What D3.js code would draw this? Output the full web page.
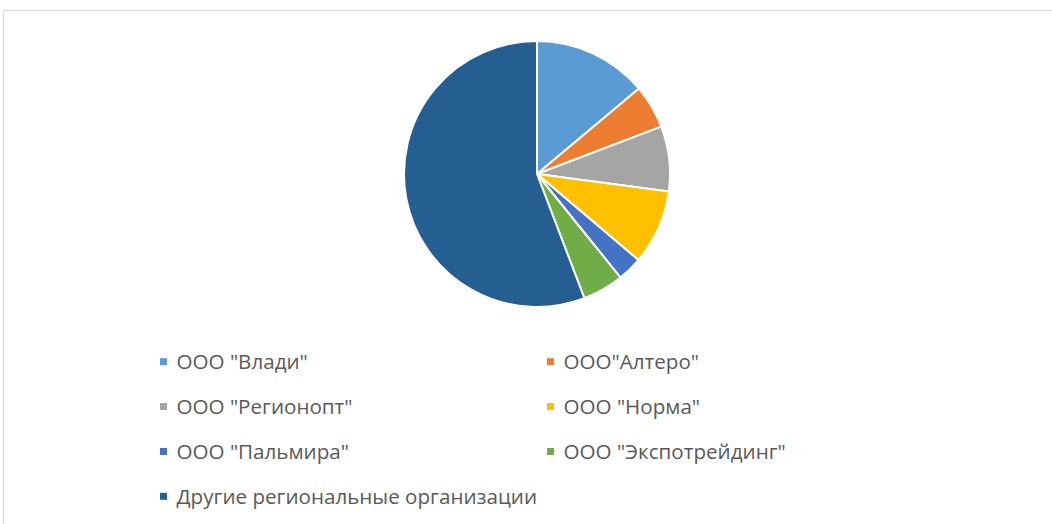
<!DOCTYPE html>
<html><head><meta charset="utf-8">
<script src="https://cdn.jsdelivr.net/npm/d3@7/dist/d3.min.js"></script>
<style>html,body{margin:0;padding:0;background:#fff;}svg{display:block;}</style>
</head><body>
<svg id="c" width="1052" height="524"></svg>
<script>
const categories = ['ООО "Влади"', 'ООО"Алтеро"', 'ООО "Регионопт"', 'ООО "Норма"', 'ООО "Пальмира"', 'ООО "Экспотрейдинг"', 'Другие региональные организации'];
const values = [13.9, 5.3, 7.9, 9.1, 3.0, 5.0, 55.8];
const colors = ["#5B9BD5", "#ED7D31", "#A5A5A5", "#FFC000", "#4472C4", "#70AD47", "#255E91"];

const svg = d3.select("#c");
// chart frame
svg.append("rect").attr("x", 3.5).attr("y", 10.5).attr("width", 1100).attr("height", 600)
  .attr("fill", "none").attr("stroke", "#D9D9D9").attr("stroke-width", 1);

const cx = 537, cy = 174, r = 133;
const pie = d3.pie().sort(null).value(d => d)(values);
const arc = d3.arc().innerRadius(0).outerRadius(r);
svg.append("g").attr("transform", `translate(${cx},${cy})`)
  .selectAll("path").data(pie).join("path")
  .attr("d", arc).attr("fill", (d, i) => colors[i])
  .attr("stroke", "#fff").attr("stroke-width", 2).attr("stroke-linejoin", "round");

const colX = [160, 547], rowY = [361.7, 406.5, 451.5, 496.3];
const lg = svg.append("g").selectAll("g").data(categories).join("g")
  .attr("transform", (d, i) => `translate(${colX[i % 2]},${rowY[Math.floor(i / 2)]})`);
lg.append("rect").attr("x", 0).attr("y", -3.5).attr("width", 7).attr("height", 7)
  .attr("fill", (d, i) => colors[i]);
lg.append("text").attr("x", 16.5).attr("y", 0).attr("dy", "0.36em")
  .attr("font-family", "Open Sans, sans-serif").attr("font-size", 20.6).attr("fill", "#595959")
  .text(d => d);
</script>
</body></html>
